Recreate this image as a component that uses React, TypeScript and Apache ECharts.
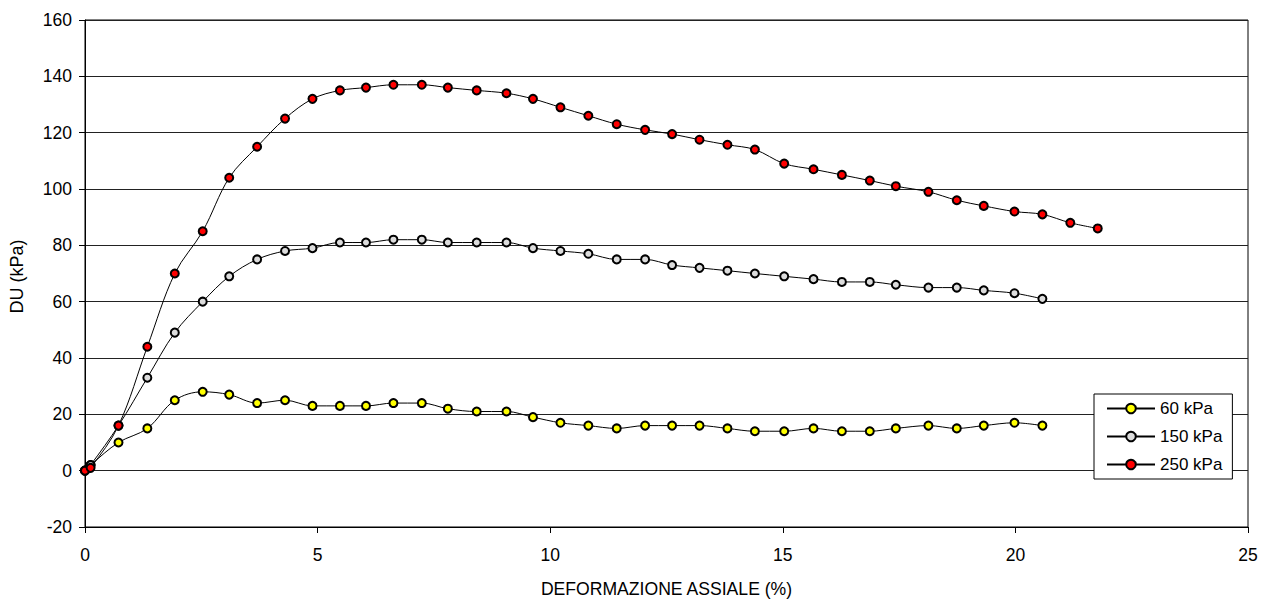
import React, { useEffect, useRef } from "react";
import * as echarts from "echarts";

const strain = [0, 0.12, 0.72, 1.34, 1.93, 2.53, 3.1, 3.7, 4.3, 4.89, 5.48, 6.04, 6.63, 7.24, 7.8, 8.42, 9.06, 9.63, 10.22, 10.82, 11.43, 12.04, 12.62, 13.21, 13.81, 14.4, 15.03, 15.66, 16.27, 16.87, 17.43, 18.13, 18.74, 19.32, 19.98, 20.58, 21.18, 21.77];

const du60 = [0, 2, 10, 15, 25, 28, 27, 24, 25, 23, 23, 23, 24, 24, 22, 21, 21, 19, 17, 16, 15, 16, 16, 16, 15, 14, 14, 15, 14, 14, 15, 16, 15, 16, 17, 16];
const du150 = [0, 2, 16, 33, 49, 60, 69, 75, 78, 79, 81, 81, 82, 82, 81, 81, 81, 79, 78, 77, 75, 75, 73, 72, 71, 70, 69, 68, 67, 67, 66, 65, 65, 64, 63, 61];
const du250 = [0, 1, 16, 44, 70, 85, 104, 115, 125, 132, 135, 136, 137, 137, 136, 135, 134, 132, 129, 126, 123, 121, 119.5, 117.5, 115.7, 114, 109, 107, 105, 103, 101, 99, 96, 94, 92, 91, 88, 86];

const seriesNames = ["60 kPa", "150 kPa", "250 kPa"];
const seriesFills = ["#FFFF00", "#DCDCDC", "#FF0000"];
const seriesValues = [du60, du150, du250];

const xTicks = { min: 0, max: 25, interval: 5 };
const yTicks = { min: -20, max: 160, interval: 20 };

const FONT = "'Liberation Sans', Arial, sans-serif";

export default function App() {
  const ref = useRef<HTMLDivElement>(null);

  useEffect(() => {
    if (!ref.current) return;
    const chart = echarts.init(ref.current, undefined, { renderer: "svg" });
    const series = seriesValues.map((vals, i) => ({
      name: seriesNames[i],
      type: "line",
      data: vals.map((v, j) => [strain[j], v]),
      smooth: 0.35,
      symbol: "circle",
      symbolSize: 8,
      lineStyle: { color: "#000", width: 1 },
      itemStyle: { color: seriesFills[i], borderColor: "#000", borderWidth: 2 },
      z: 2 + i,
    }));
    chart.setOption({
      animation: false,
      backgroundColor: "#fff",
      textStyle: { fontFamily: FONT },
      grid: {
        left: 84,
        top: 20,
        right: 21,
        bottom: 71,
        show: true,
        borderColor: "#000",
        borderWidth: 1,
        containLabel: false,
      },
      legend: {
        orient: "vertical",
        left: 1094,
        top: 394,
        padding: [6, 10, 6, 12],
        itemGap: 11,
        itemWidth: 48,
        itemHeight: 12,
        backgroundColor: "#fff",
        borderColor: "#000",
        borderWidth: 1,
        borderRadius: 0,
        textStyle: { fontFamily: FONT, fontSize: 17, color: "#000" },
        data: seriesNames,
      },
      xAxis: {
        type: "value",
        min: xTicks.min,
        max: xTicks.max,
        interval: xTicks.interval,
        name: "DEFORMAZIONE ASSIALE (%)",
        nameLocation: "middle",
        nameGap: 53,
        nameTextStyle: { fontFamily: FONT, fontSize: 17.6, color: "#000" },
        axisLine: { show: true, onZero: false, lineStyle: { color: "#000", width: 1 } },
        axisTick: { show: true, inside: false, length: 6, lineStyle: { color: "#000" } },
        axisLabel: { margin: 19, fontFamily: FONT, fontSize: 17.5, color: "#000" },
        splitLine: { show: false },
      },
      yAxis: {
        type: "value",
        min: yTicks.min,
        max: yTicks.max,
        interval: yTicks.interval,
        name: "DU (kPa)",
        nameLocation: "middle",
        nameGap: 59,
        nameRotate: 90,
        nameTextStyle: { fontFamily: FONT, fontSize: 18, color: "#000", padding: [0, 6, 0, 0] },
        axisLine: { show: true, onZero: false, lineStyle: { color: "#000", width: 1 } },
        axisTick: { show: true, inside: false, length: 6, lineStyle: { color: "#000" } },
        axisLabel: { margin: 13, fontFamily: FONT, fontSize: 17.5, color: "#000" },
        splitLine: { show: true, lineStyle: { color: "#222", width: 1 } },
      },
      series,
    });
    return () => chart.dispose();
  }, []);

  return <div ref={ref} style={{ width: 1269, height: 603, position: "absolute", left: 0, top: 0 }} />;
}
